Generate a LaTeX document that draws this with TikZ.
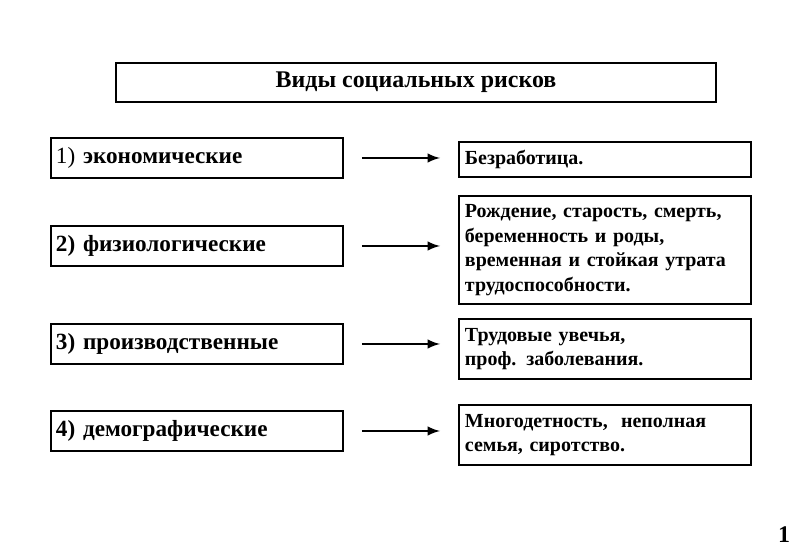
\documentclass[tikz,border=0pt]{standalone}
\usepackage{fontspec}
\setmainfont{Liberation Serif}
\usetikzlibrary{positioning}
\begin{document}
\begin{tikzpicture}[
    x=0.025cm, y=-0.025cm,
    kind/.style={rectangle, draw, line width=1.4pt, minimum width=292*0.025cm, minimum height=40*0.025cm, align=left, anchor=north west, inner sep=3pt, font=\bfseries\fontsize{16.5}{18}\selectfont, text width=282*0.025cm},
    risk/.style={rectangle, draw, line width=1.4pt, minimum width=292*0.025cm, anchor=north west, align=left, inner sep=4pt, font=\bfseries\fontsize{14.2}{17.5}\selectfont, text width=280*0.025cm},
    arrow/.style={-latex, line width=2pt}
]
\useasboundingbox (0,0) rectangle (800,554);

\node[rectangle, draw, line width=1.4pt, minimum width=600*0.025cm, minimum height=39*0.025cm, anchor=north west, font=\bfseries\fontsize{17}{19}\selectfont] (title) at (115,62) {Виды социальных рисков};

\node[kind] (econ) at (50,137) {\mdseries 1) \bfseries экономические};
\node[kind] (phys) at (50,225) {2) физиологические};
\node[kind] (prod) at (50,323) {3) производственные};
\node[kind] (demo) at (50,410) {4) демографические};

\node[risk, minimum height=35*0.025cm] (unemp) at (458,141) {Безработица.};
\node[risk, minimum height=108*0.025cm] (birth) at (458,195) {Рождение, старость, смерть,\\беременность и роды,\\временная и стойкая утрата\\трудоспособности.};
\node[risk, minimum height=60*0.025cm] (injury) at (458,318) {Трудовые увечья,\\проф. заболевания.};
\node[risk, minimum height=60*0.025cm] (family) at (458,404) {Многодетность, \ неполная\\семья, сиротство.};

\draw[arrow] ([xshift=18*0.025cm]econ.east) -- ([xshift=-18*0.025cm]econ.east -| unemp.west);
\draw[arrow] ([xshift=18*0.025cm]phys.east) -- ([xshift=-18*0.025cm]phys.east -| birth.west);
\draw[arrow] ([xshift=18*0.025cm]prod.east) -- ([xshift=-18*0.025cm]prod.east -| injury.west);
\draw[arrow] ([xshift=18*0.025cm]demo.east) -- ([xshift=-18*0.025cm]demo.east -| family.west);

\node[font=\bfseries\fontsize{17}{19}\selectfont] (page) at (784,535) {1};
\end{tikzpicture}
\end{document}
